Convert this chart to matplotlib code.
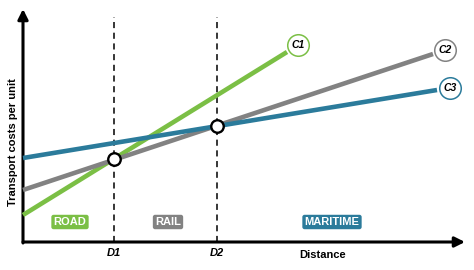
import matplotlib
matplotlib.use("Agg")
import matplotlib.pyplot as plt
import numpy as np

plt.rcParams['font.family'] = ['Liberation Sans', 'DejaVu Sans']

# Data (abstract distance / cost units)
modes = ["ROAD", "RAIL", "MARITIME"]
curve_names = ["C1", "C2", "C3"]
curve_start_x = [0, 0, 0]
curve_end_x = [264, 410, 414]
curve_start_y = [27, 52, 84]
curve_end_y = [190, 188, 152]
break_names = ["D1", "D2"]
break_x = [91, 194]
mode_label_x = [47, 145, 309]
mode_label_y = 20

colors = ["#7BBF45", "#828282", "#2B7B9B"]

fig = plt.figure(figsize=(4.74, 2.70), dpi=100)
ax = fig.add_axes([0, 0, 1, 1])
ax.set_xlim(-23, 451)
ax.set_ylim(-28, 242)
ax.axis("off")

# axes with arrows
ax.annotate("", xy=(442, 0), xytext=(0, 0),
            arrowprops=dict(arrowstyle="-|>,head_length=0.6,head_width=0.3", lw=2.2, color="black", shrinkA=0, shrinkB=0))
ax.annotate("", xy=(0, 233), xytext=(0, -1),
            arrowprops=dict(arrowstyle="-|>,head_length=0.6,head_width=0.3", lw=2.2, color="black", shrinkA=0, shrinkB=0))

# dashed vertical lines
for bx, bn in zip(break_x, break_names):
    ax.plot([bx, bx], [0, 225], color="black", lw=1.1, ls=(0, (4, 3)), zorder=2)
    ax.text(bx, -11, bn, ha="center", va="center", fontsize=8, fontweight="bold", style="italic")

# cost lines
slopes = []
for i in range(3):
    ax.plot([curve_start_x[i], curve_end_x[i]], [curve_start_y[i], curve_end_y[i]],
            color=colors[i], lw=3.3, solid_capstyle="butt", zorder=3)
    s = (curve_end_y[i] - curve_start_y[i]) / (curve_end_x[i] - curve_start_x[i])
    slopes.append(s)
    dx = 13 / np.hypot(1, s)
    cx = curve_end_x[i] + dx
    cy = curve_end_y[i] + dx * s
    ax.plot(cx, cy, marker="o", ms=15.5, mfc="white", mec=colors[i], mew=1.1, zorder=4)
    ax.text(cx, cy, curve_names[i], ha="center", va="center", fontsize=7.5, fontweight="bold", style="italic", zorder=5)

# intersection markers
def yat(i, x):
    return curve_start_y[i] + slopes[i] * (x - curve_start_x[i])
for bx, (a, b) in zip(break_x, [(0, 1), (1, 2)]):
    y = (yat(a, bx) + yat(b, bx)) / 2
    ax.plot(bx, y, marker="o", ms=9, mfc="white", mec="black", mew=1.7, zorder=6)

# mode labels
for m, x, c in zip(modes, mode_label_x, colors):
    ax.text(x, mode_label_y, m, ha="center", va="center", fontsize=8, fontweight="bold", color="white",
            bbox=dict(boxstyle="round,pad=0.2,rounding_size=0.2", fc=c, ec="none"), zorder=5)

ax.text(300, -13, "Distance", ha="center", va="center", fontsize=8, fontweight="bold")
ax.text(-10, 100, "Transport costs per unit", ha="center", va="center", rotation=90, fontsize=8, fontweight="bold")

fig.savefig("out.png", dpi=100)
